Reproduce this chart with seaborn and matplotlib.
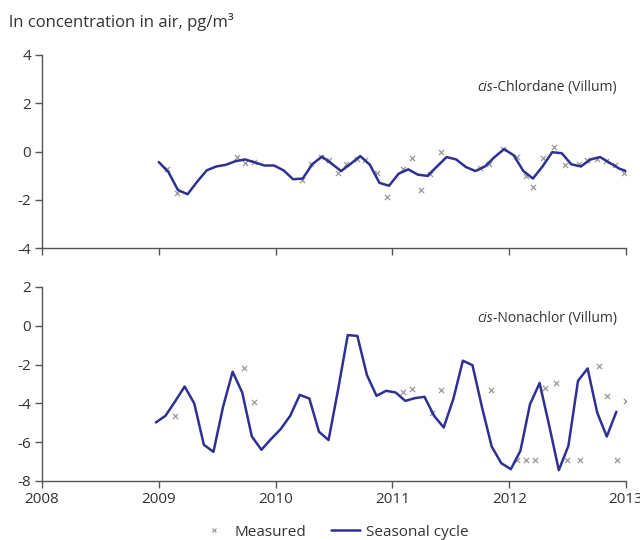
import numpy as np
import pandas as pd
import matplotlib
matplotlib.use("Agg")
import matplotlib.pyplot as plt
from matplotlib.lines import Line2D
import seaborn as sns

# ---------------- data ----------------
step_years = 30 / 365.25  # seasonal-cycle samples every 30 days

chl_cycle_start = 2009.0
chl_cycle = [-0.44, -0.85, -1.60, -1.77, -1.25, -0.78, -0.62, -0.55, -0.40, -0.33,
             -0.45, -0.58, -0.58, -0.78, -1.15, -1.12, -0.53, -0.21, -0.50, -0.81,
             -0.51, -0.19, -0.55, -1.30, -1.42, -0.92, -0.74, -0.96, -1.01, -0.62,
             -0.23, -0.33, -0.64, -0.81, -0.62, -0.23, 0.10, -0.16, -0.81, -1.12,
             -0.62, -0.03, -0.07, -0.53, -0.62, -0.33, -0.23, -0.47, -0.71, -0.85]

chl_meas_year = [2009.071, 2009.152, 2009.670, 2009.736, 2009.816, 2010.222, 2010.301,
                 2010.387, 2010.455, 2010.530, 2010.607, 2010.693, 2010.764, 2010.872,
                 2010.955, 2011.087, 2011.164, 2011.249, 2011.326, 2011.414, 2011.748,
                 2011.828, 2011.948, 2012.063, 2012.142, 2012.205, 2012.290, 2012.384,
                 2012.482, 2012.596, 2012.670, 2012.753, 2012.827, 2012.905, 2012.983]
chl_meas_val = [-0.74, -1.70, -0.23, -0.48, -0.44, -1.19, -0.51, -0.23, -0.37, -0.89,
                -0.53, -0.33, -0.37, -0.88, -1.89, -0.71, -0.28, -1.58, -0.95, -0.03,
                -0.67, -0.51, 0.11, -0.21, -1.03, -1.47, -0.28, 0.18, -0.58, -0.53,
                -0.34, -0.33, -0.40, -0.55, -0.89]

non_cycle_start = 2008.975
non_cycle = [-4.98, -4.64, -3.90, -3.13, -4.00, -6.13, -6.50, -4.18, -2.37, -3.44,
             -5.70, -6.39, -5.84, -5.33, -4.64, -3.56, -3.75, -5.46, -5.89, -3.27,
             -0.48, -0.52, -2.54, -3.61, -3.35, -3.44, -3.87, -3.73, -3.66, -4.64,
             -5.24, -3.78, -1.80, -2.03, -4.21, -6.22, -7.08, -7.39, -6.44, -4.04,
             -2.95, -5.15, -7.44, -6.19, -2.84, -2.20, -4.47, -5.71, -4.43]

non_meas_year = [2009.137, 2009.728, 2009.813, 2011.087, 2011.164, 2011.335, 2011.420,
                 2011.840, 2012.068, 2012.148, 2012.219, 2012.305, 2012.399, 2012.499,
                 2012.610, 2012.765, 2012.838, 2012.919, 2012.996]
non_meas_val = [-4.64, -2.18, -3.95, -3.40, -3.26, -4.47, -3.30, -3.32, -6.93, -6.93,
                -6.93, -3.23, -2.95, -6.93, -6.93, -2.06, -3.64, -6.93, -3.87]

x_ticks = [2008, 2009, 2010, 2011, 2012, 2013]
top_yticks = [-4, -2, 0, 2, 4]
bot_yticks = [-8, -6, -4, -2, 0, 2]
ylabel_text = "ln concentration in air, pg/m\u00b3"

# ---------------- style ----------------
sns.set_theme(style="white")
plt.rcParams["font.family"] = ["Open Sans", "DejaVu Sans"]
plt.rcParams["axes.unicode_minus"] = False
LINE_C = "#2e3192"
MEAS_C = "#9a9a9a"
AX_C = "#555555"
TXT_C = "#333333"

fig = plt.figure(figsize=(6.4, 5.4), dpi=100)
ax_top = fig.add_axes([42 / 640, 1 - 248 / 540, 584 / 640, 193 / 540])
ax_bot = fig.add_axes([42 / 640, 1 - 481 / 540, 584 / 640, 194 / 540])


def make_df(start, vals):
    return pd.DataFrame({"year": start + step_years * np.arange(len(vals)), "value": vals})


panels = [
    (ax_top, make_df(chl_cycle_start, chl_cycle),
     pd.DataFrame({"year": chl_meas_year, "value": chl_meas_val}),
     (-4, 4), top_yticks, "Chlordane (Villum)", 2.67),
    (ax_bot, make_df(non_cycle_start, non_cycle),
     pd.DataFrame({"year": non_meas_year, "value": non_meas_val}),
     (-8, 2), bot_yticks, "Nonachlor (Villum)", 0.36),
]

fig.canvas.draw()
renderer = fig.canvas.get_renderer()

for ax, cyc, meas, ylim, yt, label, ly in panels:
    sns.scatterplot(data=meas, x="year", y="value", ax=ax, marker="x", s=14,
                    color=MEAS_C, linewidth=0.9, zorder=2, legend=False)
    sns.lineplot(data=cyc, x="year", y="value", ax=ax, color=LINE_C, lw=1.8,
                 zorder=3, legend=False)
    ax.set_xlim(2008, 2013)
    ax.set_ylim(*ylim)
    ax.set_yticks(yt)
    ax.set_xticks(x_ticks)
    ax.set_xlabel("")
    ax.set_ylabel("")
    for s in ["top", "right"]:
        ax.spines[s].set_visible(False)
    for s in ["left", "bottom"]:
        ax.spines[s].set_color(AX_C)
        ax.spines[s].set_linewidth(1.0)
    ax.tick_params(axis="both", direction="out", length=5, width=1.0, color=AX_C,
                   labelcolor=TXT_C, labelsize=11, left=True, bottom=True, pad=3)
    ax.set_facecolor("none")
    ax.patch.set_alpha(0)
    t = ax.text(2012.92, ly, "-" + label, ha="right", va="center", fontsize=10,
                color=TXT_C)
    bb = t.get_window_extent(renderer=renderer)
    x0_data = ax.transData.inverted().transform((bb.x0, bb.y0))[0]
    ax.text(x0_data, ly, "cis", ha="right", va="center", fontsize=10,
            color=TXT_C, style="italic")

ax_top.set_xticklabels([])

fig.text(9 / 640, 1 - 22 / 540, ylabel_text, ha="left", va="center",
         fontsize=12, color=TXT_C)

handles = [
    Line2D([], [], marker="x", linestyle="none", color=MEAS_C, markersize=3.5,
           markeredgewidth=0.9),
    Line2D([], [], color=LINE_C, lw=1.8),
]
fig.legend(handles, ["Measured", "Seasonal cycle"], loc="center",
           bbox_to_anchor=(334 / 640, 1 - 532 / 540), ncol=2, frameon=False,
           fontsize=11, labelcolor=TXT_C, handlelength=1.9, columnspacing=1.6,
           handletextpad=0.4)

fig.savefig("out.png", dpi=100)
